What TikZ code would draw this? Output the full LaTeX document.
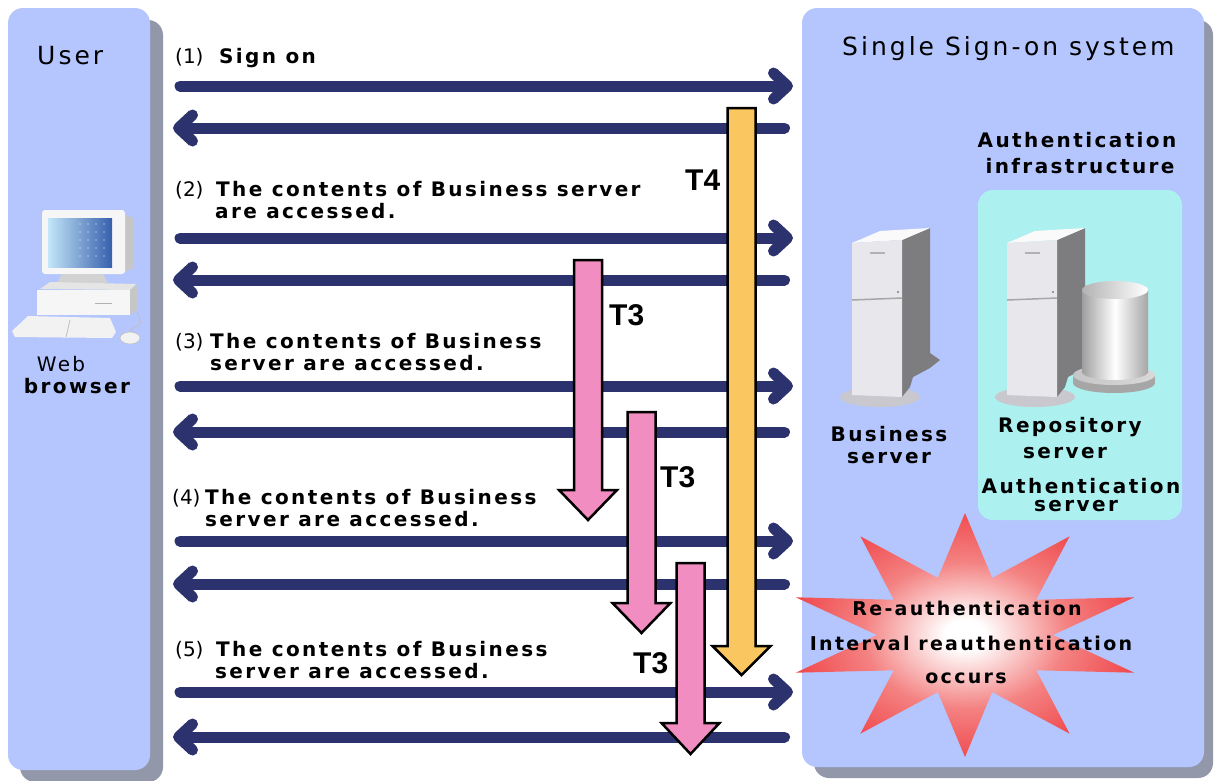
\documentclass[tikz,border=0pt]{standalone}
\usepackage{fontspec}
\setmainfont{DejaVu Sans}
\newfontfamily\lab[LetterSpace=12]{DejaVu Sans}
\newfontfamily\tfont{Liberation Sans}
\usetikzlibrary{arrows.meta,calc}

\definecolor{panelblue}{RGB}{180,198,253}
\definecolor{panelshade}{RGB}{146,152,170}
\definecolor{navy}{RGB}{43,50,110}
\definecolor{infra}{RGB}{172,240,240}
\definecolor{tfour}{RGB}{250,198,95}
\definecolor{tthree}{RGB}{241,141,192}
\definecolor{starpink}{RGB}{244,130,130}
\definecolor{starred}{RGB}{238,50,55}
\definecolor{sidegray}{RGB}{125,125,128}
\definecolor{frontgray}{RGB}{232,232,236}
\definecolor{topwhite}{RGB}{250,250,250}
\definecolor{basegray}{RGB}{200,200,206}
\definecolor{scrlight}{RGB}{195,230,248}
\definecolor{scrdark}{RGB}{55,95,172}

\pgfdeclareradialshading{burst}{\pgfpoint{0bp}{0bp}}{color(0bp)=(white); color(3bp)=(white); color(15bp)=(starpink); color(30bp)=(starred); color(50bp)=(starred)}

\tikzset{
  fwd/.style={draw=navy, line width=11pt, line cap=round,
    -{Straight Barb[length=14pt,width=26pt,round]}},
  hdr/.style={font=\fontsize{25}{28}\selectfont\lab, inner sep=0pt, anchor=base west},
  num/.style={font=\fontsize{20}{22}\selectfont, inner sep=0pt, anchor=base west},
  txt/.style={font=\fontsize{20}{22}\selectfont\lab\bfseries, inner sep=0pt, anchor=base west},
  ctxt/.style={font=\fontsize{20}{22}\selectfont\lab\bfseries, inner sep=0pt, anchor=base},
  startxt/.style={font=\fontsize{19}{22}\selectfont\lab\bfseries, inner sep=0pt, anchor=base},
  tlabel/.style={font=\fontsize{30}{32}\selectfont\tfont\bfseries, inner sep=0pt, anchor=base west},
  tower/.pic={
    \fill[basegray] (28,154) ellipse[x radius=40, y radius=10];
    \fill[sidegray] (50,-3) -- (78,-15) -- (78,110) -- (88,117) -- (78,125)
      -- (61,134) -- (58,144) -- (50,154) -- cycle;
    \fill[topwhite] (0,0) -- (28,-12) -- (78,-15) -- (50,-3) -- cycle;
    \fill[frontgray] (0,0) -- (50,-3) -- (50,154) -- (0,152) -- cycle;
    \draw[gray!70, line width=1.5pt] (0,57) -- (50,55);
    \draw[gray!60, line width=2pt] (18,10) -- (33,10);
    \fill[gray] (46,49) circle[radius=1.2];
  }
}

% timer arrow: centre x, top, start of head, tip, fill colour
\newcommand\dropArrow[5]{%
  \filldraw[draw=black, line width=2.5pt, fill=#5, line join=miter]
    ({#1-14},#2) -- ({#1+14},#2) -- ({#1+14},#3) -- ({#1+29},#3) -- (#1,#4)
    -- ({#1-29},#3) -- ({#1-14},#3) -- cycle;}

\begin{document}
\begin{tikzpicture}[x=1pt,y=-1pt]
\useasboundingbox (0,0) rectangle (1218,780);

% ---- panels with drop shadows ----
\fill[panelshade, rounded corners=15] (20,20) rectangle (163,782);
\fill[panelblue, rounded corners=15] (8,8) rectangle (150,770);
\fill[panelshade, rounded corners=15] (814,20) rectangle (1213,778);
\fill[panelblue, rounded corners=15] (802,8) rectangle (1204,767);

% ---- authentication infrastructure box ----
\fill[infra, rounded corners=15] (978,190) rectangle (1182,520);

% ---- servers ----
\pic at (852,243) {tower};
\pic at (1007,243) {tower};
% repository disk
\fill[gray!70] (1114,383) ellipse[x radius=41, y radius=10];
\fill[gray!70] (1073,375) rectangle (1155,383);
\shade[left color=gray!45, right color=gray!30] (1114,375) ellipse[x radius=41, y radius=10];
\shade[left color=gray!75, right color=gray!70, middle color=white] (1082,290) rectangle (1148,372);
\shade[left color=gray!75, right color=gray!70, middle color=white] (1115,372) ellipse[x radius=33, y radius=8];
\shade[left color=gray!60, right color=white] (1115,290) ellipse[x radius=33, y radius=9];

% ---- user workstation ----
\fill[gray!45] (118,212) -- (133,218) -- (133,268) -- (118,275) -- cycle;
\fill[white!93!gray, rounded corners=3] (42,210) rectangle (125,274);
\shade[left color=scrlight, right color=scrdark] (48,218) rectangle (112,267);
\foreach \dx in {80,88,96,104} {
  \foreach \dy in {224,232,...,262} {
    \fill[white, opacity=0.45] (\dx,\dy) circle[radius=0.8];
  }
}
\fill[gray!35] (62,274) -- (103,274) -- (108,283) -- (57,283) -- cycle;
\fill[white!80!gray] (40,289) -- (50,282) -- (136,284) -- (130,290) -- cycle;
\fill[white!93!gray] (37,290) rectangle (130,315);
\fill[gray!45] (130,290) -- (137,285) -- (137,310) -- (130,315) -- cycle;
\draw[gray!60, line width=1pt] (95,303) -- (112,303);
\fill[white!90!gray] (12,331) -- (28,316) -- (110,318) -- (116,332) -- (112,338) -- (15,337) -- cycle;
\draw[gray!50, line width=0.8pt] (70,320) -- (66,337);
\draw[gray!50, line width=0.8pt] (128,333) .. controls (136,322) and (146,330) .. (137,312);
\fill[white!90!gray] (130,338) ellipse[x radius=10, y radius=6];
\draw[gray!50, line width=0.6pt] (130,338) ellipse[x radius=10, y radius=6];

% ---- panel titles and labels ----
\node[hdr] (user) at (37,64) {User};
\node[hdr] (sso) at (842,55) {Single Sign-on system};
\node[num, font=\fontsize{20}{22}\selectfont\lab, anchor=base] (web) at (61,371) {Web};
\node[ctxt] (browser) at (77,393) {browser};
\node[ctxt] (infra1) at (1077,147) {Authentication};
\node[ctxt] (infra2) at (1080,173) {infrastructure};
\node[ctxt] (bus1) at (889,441) {Business};
\node[ctxt] (bus2) at (889,463) {server};
\node[ctxt] (rep1) at (1070,432) {Repository};
\node[ctxt] (rep2) at (1065,458) {server};
\node[ctxt] (auth1) at (1081,493) {Authentication};
\node[ctxt] (auth2) at (1076,511) {server};

% ---- re-authentication burst ----
\shade[shading=burst] (965,513)
  \foreach \k in {0,...,9} {
    -- ({965+88*cos(-72+36*\k)},{635+60*sin(-72+36*\k)})
    -- ({965+178*cos(-54+36*\k)},{635+122*sin(-54+36*\k)})
  } -- cycle;
\node[startxt] (re1) at (967,615) {Re-authentication};
\node[startxt] (re2) at (971,650) {Interval reauthentication};
\node[startxt] (re3) at (966,683) {occurs};

% ---- request / response flows ----
\foreach \i/\ya/\yb in {1/86/128, 2/238/280, 3/386/432, 4/541/584, 5/692/737} {
  \coordinate (uo\i) at (180,\ya);
  \coordinate (si\i) at (793,\ya);
  \coordinate (so\i) at (784.5,\yb);
  \coordinate (ui\i) at (173,\yb);
  \draw[fwd] (uo\i) -- (si\i);
  \draw[fwd] (so\i) -- (ui\i);
}

% ---- step captions ----
\node[num] (n1) at (175,63) {(1)};
\node[txt] (s1) at (219,63) {Sign on};
\node[num] (n2) at (175,196) {(2)};
\node[txt] (s2a) at (216,196) {The contents of Business server};
\node[txt] (s2b) at (215,218) {are accessed.};
\node[num] (n3) at (175,348) {(3)};
\node[txt] (s3a) at (210,348) {The contents of Business};
\node[txt] (s3b) at (210,370) {server are accessed.};
\node[num] (n4) at (172,504) {(4)};
\node[txt] (s4a) at (205,504) {The contents of Business};
\node[txt] (s4b) at (205,526) {server are accessed.};
\node[num] (n5) at (175,656) {(5)};
\node[txt] (s5a) at (216,656) {The contents of Business};
\node[txt] (s5b) at (215,678) {server are accessed.};

% ---- timers ----
\dropArrow{741.5}{108}{646}{675}{tfour}
\dropArrow{588}{260}{490}{520}{tthree}
\dropArrow{641.5}{412}{603}{633}{tthree}
\dropArrow{690.5}{563}{723}{754}{tthree}
\node[tlabel] (t4) at (685,190) {T4};
\node[tlabel] (t3a) at (609,325) {T3};
\node[tlabel] (t3b) at (660,487) {T3};
\node[tlabel] (t3c) at (633,673) {T3};
\end{tikzpicture}
\end{document}
